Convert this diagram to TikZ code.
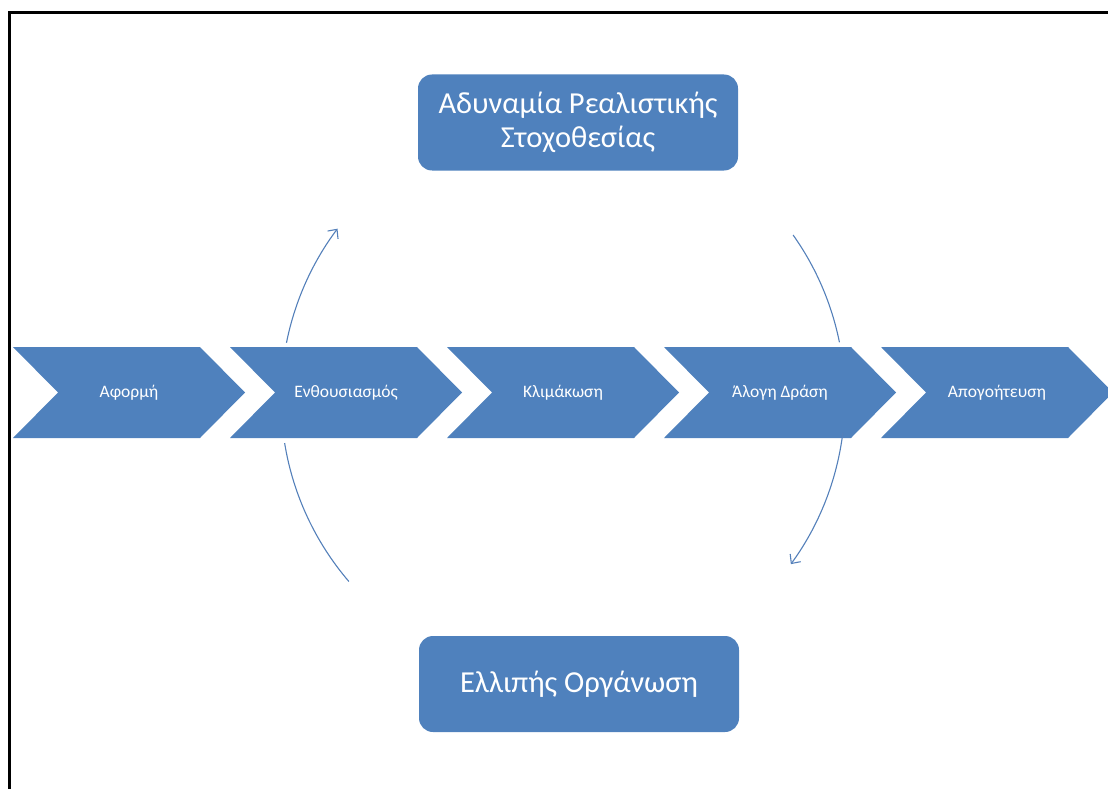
\documentclass[tikz,border=0pt]{standalone}
\usepackage{fontspec}
\setmainfont{Carlito}
\usetikzlibrary{arrows.meta}
\definecolor{boxblue}{RGB}{79,129,189}
\definecolor{arcblue}{RGB}{84,128,186}

\begin{document}
\begin{tikzpicture}[x=1pt,y=-1pt,
    chevron/.style={fill=boxblue},
    steplabel/.style={text=white,font=\fontsize{17.5}{21}\selectfont},
    goalbox/.style={fill=boxblue,rounded corners=14pt,text=white,align=center,
      minimum width=320pt,minimum height=96pt,font=\fontsize{30.5}{34}\selectfont},
    flow/.style={arcblue,line width=1.1pt}]
    \clip (0,0) rectangle (1108,789);
    \draw[line width=3pt] (9,800) -- (9,13) -- (1120,13);
    \foreach \i/\txt in {1/Αφορμή,2/Ενθουσιασμός,3/Κλιμάκωση,4/Άλογη Δράση,5/Απογοήτευση}{
      \coordinate (c\i) at (217*\i-204,347);
      \fill[chevron] (c\i) -- ++(187,0) -- ++(45,45.5) -- ++(-45,45.5) -- ++(-187,0) -- ++(45,-45.5) -- cycle;
      \node[steplabel] (s\i) at ([shift={(116,45.5)}]c\i) {\txt};
    }
    \node[goalbox] (goal) at (578,122.5) {Αδυναμία Ρεαλιστικής\\Στοχοθεσίας};
    \node[goalbox] (plan) at (579,684) {Ελλιπής Οργάνωση};
    \coordinate (hub) at (563,398);
    \begin{scope}[flow]
      \draw ([shift={(139.4:282)}]hub) arc[start angle=139.4,end angle=170.8,radius=282];
      \draw[-{Straight Barb[length=7pt,width=13pt]}] ([shift={(191.3:282)}]hub) arc[start angle=191.3,end angle=216.9,radius=282];
      \draw ([shift={(-35.3:282)}]hub) arc[start angle=-35.3,end angle=-11.4,radius=282];
      \draw[-{Straight Barb[length=7pt,width=13pt]}] ([shift={(7.1:282)}]hub) arc[start angle=7.1,end angle=36.1,radius=282];
    \end{scope}
\end{tikzpicture}
\end{document}
